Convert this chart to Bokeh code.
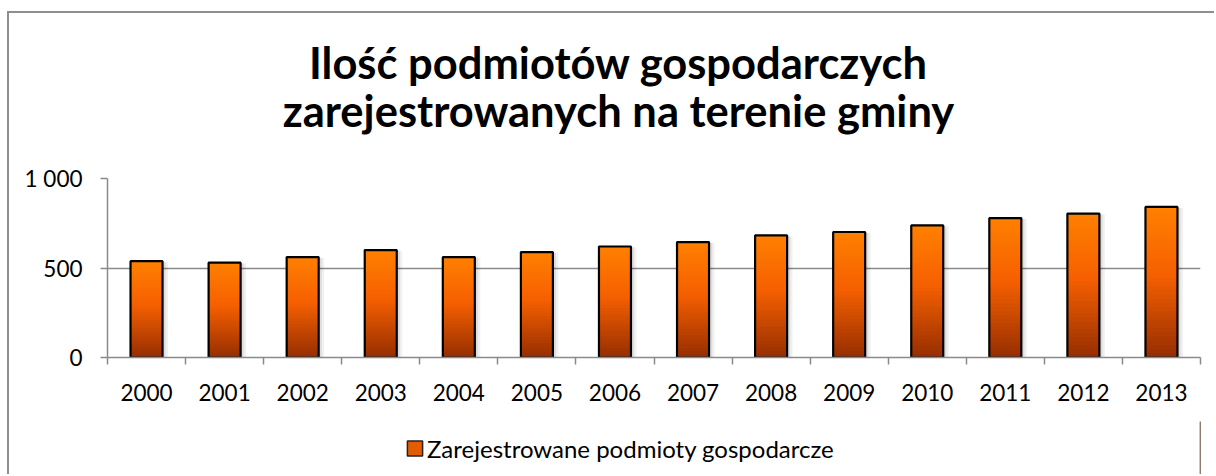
from bokeh.plotting import figure
from bokeh.models import FixedTicker, Legend, LegendItem, Label
from bokeh.layouts import column
from bokeh.embed import file_html
from bokeh.resources import INLINE

# ---- data ----
years = ["2000", "2001", "2002", "2003", "2004", "2005", "2006",
         "2007", "2008", "2009", "2010", "2011", "2012", "2013"]
values = [538, 530, 561, 600, 561, 589, 620, 645, 682, 701, 738, 779, 804, 841]
y_ticks = [0, 500, 1000]
y_tick_labels = ["0", "500", "1 000"]
title_lines = ["Ilość podmiotów gospodarczych", "zarejestrowanych na terenie gminy"]
series_name = "Zarejestrowane podmioty gospodarcze"

FONT = "Lato"
GRAY = "#8a8a8a"
BAR_W = 0.41
W = 1205
BL, BR = 98, 14            # left / right borders shared by all stacked figures
H_HEAD, H_MAIN, H_LEG = 150, 258, 53

# gradient stops (fraction of bar height -> rgb)
stops = [(0.0, (150, 46, 0)), (0.55, (246, 96, 0)), (1.0, (255, 128, 0))]


def grad(t):
    for (t0, c0), (t1, c1) in zip(stops[:-1], stops[1:]):
        if t0 <= t <= t1:
            f = (t - t0) / (t1 - t0)
            return "#%02x%02x%02x" % tuple(int(round(a + (b - a) * f)) for a, b in zip(c0, c1))
    return "#%02x%02x%02x" % stops[-1][1]


def blank(height, xr, yr):
    f = figure(width=W, height=height, x_range=xr, y_range=yr, output_backend="svg",
               toolbar_location=None, x_axis_type=None, y_axis_type=None,
               min_border_left=BL, min_border_right=BR, min_border_top=0, min_border_bottom=0,
               outline_line_color=None,
               background_fill_color="white", border_fill_color="white")
    return f


# ---- header with the two-line title (data units == canvas pixels) ----
head = blank(H_HEAD, (BL, W - BR), (0, H_HEAD))
for line, y in zip(title_lines, [H_HEAD - 48.5, H_HEAD - 96]):
    head.add_layout(Label(x=609, y=y, text=line, text_align="center", text_baseline="alphabetic",
                          text_font=FONT, text_font_style="bold", text_font_size="43.5px",
                          text_color="black"))

# ---- main chart ----
xs = list(range(len(years)))
p = figure(width=W, height=H_MAIN, x_range=(-0.5, len(years) - 0.5), y_range=(0, 1000),
           output_backend="svg", toolbar_location=None,
           min_border_left=BL, min_border_right=BR, min_border_top=15, min_border_bottom=64,
           background_fill_color="white", border_fill_color="white", outline_line_color=None)

# soft shadow
p.vbar(x=[x + 0.045 for x in xs], top=[v - 4 for v in values], width=BAR_W + 0.05,
       fill_color="black", fill_alpha=0.06, line_color=None)
p.vbar(x=[x + 0.03 for x in xs], top=[v - 6 for v in values], width=BAR_W + 0.02,
       fill_color="black", fill_alpha=0.08, line_color=None)

# gradient bars built from stacked segments
N = 36
sx, sb, st, sc = [], [], [], []
for x, v in zip(xs, values):
    for k in range(N):
        sx.append(x)
        sb.append(v * k / N)
        st.append(min(v, v * (k + 1.6) / N))
        sc.append(grad((k + 0.5) / N))
p.vbar(x=sx, bottom=sb, top=st, width=BAR_W, fill_color=sc, line_color=None)

# outline
p.vbar(x=xs, top=values, width=BAR_W, fill_color=None, line_color="black", line_width=2.2)

# axes
p.xaxis.ticker = FixedTicker(ticks=xs, minor_ticks=[x - 0.5 for x in range(len(years) + 1)])
p.xaxis.major_label_overrides = {x: y for x, y in zip(xs, years)}
p.xaxis.major_tick_line_color = None
p.xaxis.major_tick_out = 0
p.xaxis.major_tick_in = 0
p.xaxis.minor_tick_out = 7
p.xaxis.minor_tick_in = 0
p.xaxis.minor_tick_line_color = GRAY
p.xaxis.minor_tick_line_width = 1.5
p.xaxis.axis_line_color = GRAY
p.xaxis.axis_line_width = 1.5
p.xaxis.major_label_standoff = 19
p.xaxis.major_label_text_font = FONT
p.xaxis.major_label_text_font_size = "22.5px"
p.xaxis.major_label_text_color = "black"

p.yaxis.ticker = FixedTicker(ticks=y_ticks)
p.yaxis.major_label_overrides = {t: l for t, l in zip(y_ticks, y_tick_labels)}
p.yaxis.major_tick_out = 7
p.yaxis.major_tick_in = 0
p.yaxis.major_tick_line_color = GRAY
p.yaxis.major_tick_line_width = 1.5
p.yaxis.minor_tick_line_color = None
p.yaxis.axis_line_color = GRAY
p.yaxis.axis_line_width = 1.5
p.yaxis.major_label_standoff = 18
p.yaxis.major_label_text_font = FONT
p.yaxis.major_label_text_font_size = "22.5px"
p.yaxis.major_label_text_color = "black"

p.xgrid.visible = False
p.ygrid.ticker = FixedTicker(ticks=y_ticks)
p.ygrid.grid_line_color = GRAY
p.ygrid.grid_line_width = 1.5

# ---- legend strip ----
leg = blank(H_LEG, (0, 1), (0, 1))
r_leg = leg.vbar(x=[5], top=[1], width=0.4, fill_color="#e45c00", line_color="#222222", line_width=1.5)
legend = Legend(items=[LegendItem(label=series_name, renderers=[r_leg])],
                location="center_left", orientation="horizontal",
                background_fill_alpha=0, border_line_color=None, padding=0, margin=298,
                glyph_width=19, glyph_height=19, label_standoff=3,
                label_text_font=FONT, label_text_font_size="24px", label_text_color="black")
leg.add_layout(legend)

layout = column(head, p, leg, spacing=0,
                styles={"margin-left": "7px", "margin-top": "11px",
                        "border-left": "2px solid #8e8e8e", "border-top": "2px solid #8e8e8e"})

open("out.html", "w").write(file_html(layout, INLINE))
